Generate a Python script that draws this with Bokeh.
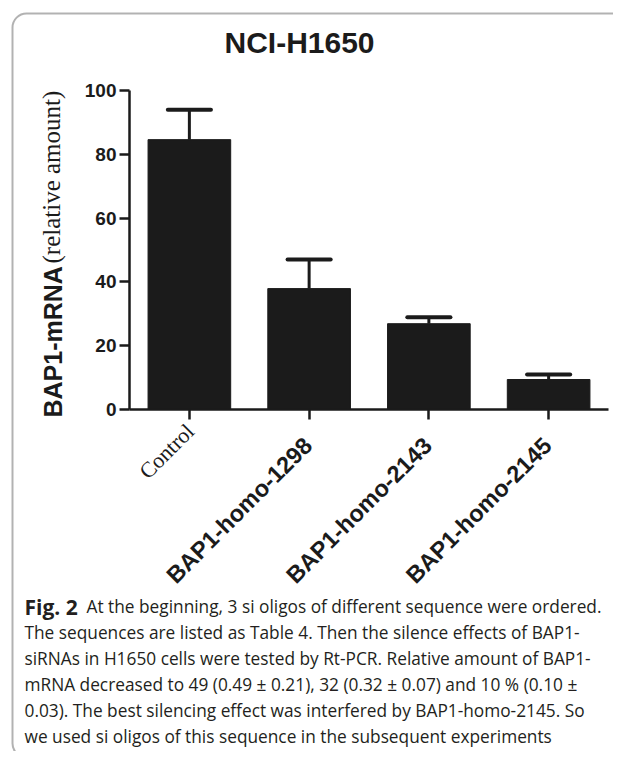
import math
from bokeh.plotting import figure
from bokeh.models import Range1d, FixedTicker, Label, BoxAnnotation
from bokeh.embed import file_html
from bokeh.resources import INLINE

# ---- data ----
categories = ["Control", "BAP1-homo-1298", "BAP1-homo-2143", "BAP1-homo-2145"]
values = [84.6, 37.9, 26.9, 9.4]
errors = [9.4, 9.1, 2.0, 1.6]
y_ticks = [0, 20, 40, 60, 80, 100]
title_text = "NCI-H1650"
ylabel_main = "BAP1-mRNA"
ylabel_sub = "(relative amount)"
caption_bold = "Fig. 2"
caption_lines = [
    "At the beginning, 3 si oligos of different sequence were ordered.",
    "The sequences are listed as Table 4. Then the silence effects of BAP1-",
    "siRNAs in H1650 cells were tested by Rt-PCR. Relative amount of BAP1-",
    "mRNA decreased to 49 (0.49 \u00b1 0.21), 32 (0.32 \u00b1 0.07) and 10 % (0.10 \u00b1",
    "0.03). The best silencing effect was interfered by BAP1-homo-2145. So",
    "we used si oligos of this sequence in the subsequent experiments",
]

# ---- layout ----
W, H = 613, 751
AL, AR, AT, AB = 129, 608, 90, 409   # where the axes sit (canvas px, y from top)
XMIN, XMAX, YMIN, YMAX = -0.5, 3.5, 0, 100
XPX = (AR - AL) / (XMAX - XMIN)
YPX = (AB - AT) / (YMAX - YMIN)

ink = "#1b1b1b"

# plot frame covers the whole canvas; axes are pinned inside it
p = figure(width=W, height=H, output_backend="svg", toolbar_location=None,
           x_range=Range1d(XMIN - AL / XPX, XMAX + (W - AR) / XPX),
           y_range=Range1d(YMIN - (H - AB) / YPX, YMAX + AT / YPX),
           min_border=0)
p.outline_line_color = None
p.xgrid.visible = False
p.ygrid.visible = False
p.background_fill_color = "white"
p.border_fill_color = "white"

xs = list(range(len(categories)))
tops = [v + e for v, e in zip(values, errors)]

p.vbar(x=xs, top=values, bottom=0, width=0.69, fill_color=ink, line_color=ink, line_width=1)
p.segment(x0=xs, y0=values, x1=xs, y1=tops, line_color=ink, line_width=3)
p.segment(x0=[x - 0.18 for x in xs], y0=tops, x1=[x + 0.18 for x in xs], y1=tops,
          line_color=ink, line_width=4, line_cap="round")

for ax in (p.xaxis[0], p.yaxis[0]):
    ax.axis_line_width = 2.5
    ax.axis_line_color = ink
    ax.major_tick_line_width = 2.5
    ax.major_tick_line_color = ink
    ax.major_tick_out = 10
    ax.major_tick_in = 0
    ax.minor_tick_line_color = None

p.xaxis[0].fixed_location = YMIN
p.xaxis[0].bounds = (XMIN, XMAX)
p.xaxis[0].ticker = FixedTicker(ticks=xs)
p.xaxis[0].major_label_text_font_size = "0px"
p.xaxis[0].major_label_text_alpha = 0

p.yaxis[0].fixed_location = XMIN
p.yaxis[0].bounds = (YMIN, YMAX)
p.yaxis[0].ticker = FixedTicker(ticks=y_ticks)
p.yaxis[0].major_label_text_font = "Liberation Sans"
p.yaxis[0].major_label_text_font_style = "bold"
p.yaxis[0].major_label_text_font_size = "19px"
p.yaxis[0].major_label_text_color = ink
p.yaxis[0].major_label_standoff = 3

def lab(x, y, text, **kw):
    p.add_layout(Label(x=x, y=y, x_units="canvas", y_units="canvas", text=text,
                       text_color=kw.pop("text_color", ink), **kw))

# title
lab(299, 42, title_text, text_align="center", text_baseline="middle",
    text_font="Liberation Sans", text_font_style="bold", text_font_size="30px")

# y label (two fonts)
lab(52, 417, ylabel_main, angle=math.pi / 2, text_align="left", text_baseline="middle",
    text_font="Liberation Sans", text_font_style="bold", text_font_size="25px")
lab(51, 263, ylabel_sub, angle=math.pi / 2, text_align="left", text_baseline="middle",
    text_font="Liberation Serif", text_font_size="25px")

# x category labels
for i, c in enumerate(categories):
    tick_px = AL + (i - XMIN) * XPX
    if i == 0:
        lab(tick_px + 1, 427, c, angle=math.pi / 4, text_align="right", text_baseline="middle",
            text_font="Liberation Serif", text_font_size="22px")
    else:
        lab(tick_px - 1, 441, c, angle=math.pi / 4, text_align="right", text_baseline="middle",
            text_font="Liberation Sans", text_font_style="bold", text_font_size="23.5px")

# caption
cap_color = "#231f20"
mid0, step = 606, 26
lab(24, mid0, caption_bold, text_align="left", text_baseline="middle",
    text_font="Open Sans", text_font_style="bold", text_font_size="21px", text_color=cap_color)
for k, line in enumerate(caption_lines):
    x0 = 86 if k == 0 else 24
    lab(x0, mid0 + k * step, line, text_align="left", text_baseline="middle",
        text_font="Open Sans", text_font_size="17.3px", text_color=cap_color)

# rounded border
p.add_layout(BoxAnnotation(left=12, right=700, top=13, bottom=757,
                           left_units="canvas", right_units="canvas",
                           top_units="canvas", bottom_units="canvas",
                           fill_color=None, fill_alpha=0, line_color="black", line_width=2,
                           border_radius=14))

open("out.html", "w").write(file_html(p, INLINE))
